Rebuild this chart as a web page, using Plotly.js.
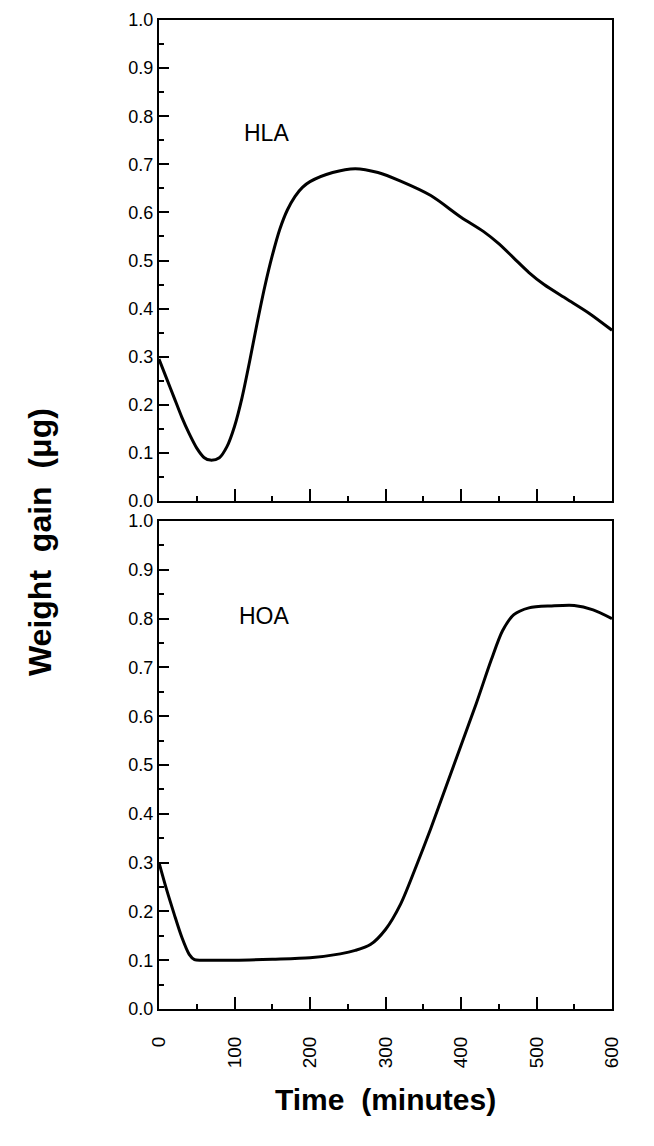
<!DOCTYPE html>
<html>
<head>
<meta charset="utf-8">
<script src="https://cdn.plot.ly/plotly-3.0.1.min.js"></script>
<style>html,body{margin:0;padding:0;background:#fff;}</style>
</head>
<body>
<div id="chart" style="width:654px;height:1146px;"></div>
<script>
// HLA panel (top)
const hlaTime = [0, 10, 20, 30, 40, 50, 60, 68, 80, 90, 100, 110, 120, 130, 140, 150, 160, 170, 180, 190, 200, 230, 260, 290, 320, 360, 400, 430, 450, 470, 490, 510, 540, 570, 600];
const hlaGain = [0.295, 0.255, 0.215, 0.175, 0.14, 0.11, 0.09, 0.085, 0.09, 0.113, 0.155, 0.215, 0.29, 0.37, 0.445, 0.51, 0.565, 0.605, 0.633, 0.652, 0.664, 0.683, 0.691, 0.683, 0.665, 0.635, 0.59, 0.56, 0.535, 0.505, 0.475, 0.45, 0.42, 0.39, 0.355];
// HOA panel (bottom)
const hoaTime = [0, 10, 20, 30, 40, 47, 60, 100, 150, 200, 240, 260, 280, 300, 320, 340, 360, 380, 400, 420, 440, 455, 470, 490, 520, 550, 575, 600];
const hoaGain = [0.30, 0.245, 0.195, 0.148, 0.112, 0.101, 0.10, 0.10, 0.102, 0.105, 0.113, 0.12, 0.132, 0.163, 0.215, 0.29, 0.37, 0.455, 0.54, 0.625, 0.715, 0.775, 0.808, 0.822, 0.826, 0.827, 0.818, 0.80];
const panelLabels = ["HLA", "HOA"];
const xTitle = "Time\u00a0\u00a0(minutes)";
const yTitle = "Weight\u00a0\u00a0gain\u00a0\u00a0(\u03bcg)";

const FONT = "'Liberation Sans', Arial, Helvetica, sans-serif";
const W = 654, H = 1146;
const mL = 159, mR = 42, mT = 20, mB = 137;
const plotH = H - mT - mB;
const plotW = W - mL - mR;
const topDomain = [(H - mB - 501) / plotH, 1];
const botDomain = [0, (H - mB - 521) / plotH];

const lineStyle = {color: '#000', width: 3, shape: 'spline', smoothing: 0.8};
const traces = [
  {x: hlaTime, y: hlaGain, xaxis: 'x', yaxis: 'y', mode: 'lines', line: lineStyle, hoverinfo: 'skip'},
  {x: hoaTime, y: hoaGain, xaxis: 'x2', yaxis: 'y2', mode: 'lines', line: lineStyle, hoverinfo: 'skip'}
];

function xAxis(anchor, showLabels) {
  return {
    anchor: anchor, domain: [0, 1], range: [0, 600], tick0: 0, dtick: 100,
    ticks: 'inside', ticklen: 12, tickwidth: 2, tickcolor: '#000',
    minor: {ticks: 'inside', ticklen: 5, tickwidth: 2, dtick: 50, tickcolor: '#000', showgrid: false},
    showline: true, linewidth: 2, linecolor: '#000', mirror: true,
    showgrid: false, zeroline: false,
    showticklabels: showLabels, tickangle: -90, ticklabelstandoff: 18,
    tickfont: {family: FONT, size: 19, color: '#000'}
  };
}
function yAxis(anchor, domain) {
  return {
    anchor: anchor, domain: domain, range: [0, 1], tick0: 0, dtick: 0.1, tickformat: '.1f',
    ticks: 'inside', ticklen: 10, tickwidth: 2, tickcolor: '#000',
    minor: {ticks: 'inside', ticklen: 5, tickwidth: 2, dtick: 0.05, tickcolor: '#000', showgrid: false},
    showline: true, linewidth: 2, linecolor: '#000', mirror: true,
    showgrid: false, zeroline: false,
    tickfont: {family: FONT, size: 18, color: '#000'}
  };
}

const layout = {
  width: W, height: H,
  margin: {l: mL, r: mR, t: mT, b: mB},
  paper_bgcolor: '#fff', plot_bgcolor: '#fff',
  showlegend: false,
  xaxis: xAxis('y', false),
  yaxis: yAxis('x', topDomain),
  xaxis2: xAxis('y2', true),
  yaxis2: yAxis('x2', botDomain),
  annotations: [
    {text: panelLabels[0], xref: 'x', yref: 'y', x: 142, y: 0.765, showarrow: false,
     font: {family: FONT, size: 23, color: '#000'}},
    {text: panelLabels[1], xref: 'x2', yref: 'y2', x: 140, y: 0.805, showarrow: false,
     font: {family: FONT, size: 23, color: '#000'}},
    {text: '<b>' + yTitle + '</b>', xref: 'paper', yref: 'paper',
     x: (40 - mL) / plotW, y: (H - mB - 542) / plotH, xanchor: 'center', yanchor: 'middle',
     textangle: -90, showarrow: false,
     font: {family: FONT, size: 32, color: '#000'}},
    {text: '<b>' + xTitle + '</b>', xref: 'paper', yref: 'paper',
     x: (385 - mL) / plotW, y: (H - mB - 1099) / plotH, xanchor: 'center', yanchor: 'middle',
     showarrow: false,
     font: {family: FONT, size: 30, color: '#000'}}
  ]
};

Plotly.newPlot('chart', traces, layout, {staticPlot: true, displayModeBar: false});
</script>
</body>
</html>
